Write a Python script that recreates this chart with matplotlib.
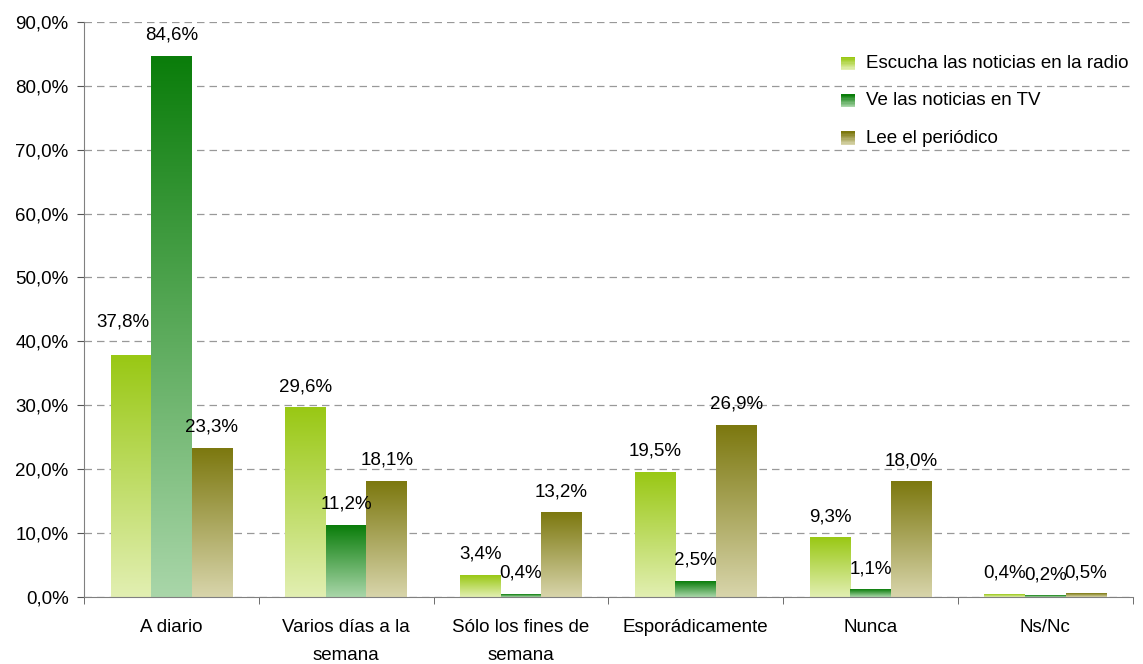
import matplotlib.pyplot as plt
import numpy as np
from matplotlib.colors import LinearSegmentedColormap
from matplotlib.patches import Rectangle
from matplotlib.legend_handler import HandlerBase

plt.rcParams['font.family'] = ['Liberation Sans', 'DejaVu Sans']

# data
categories = ['A diario', 'Varios días a la\nsemana', 'Sólo los fines de\nsemana',
              'Esporádicamente', 'Nunca', 'Ns/Nc']
series_names = ['Escucha las noticias en la radio', 'Ve las noticias en TV', 'Lee el periódico']
radio = [37.8, 29.6, 3.4, 19.5, 9.3, 0.4]
tv = [84.6, 11.2, 0.4, 2.5, 1.1, 0.2]
paper = [23.3, 18.1, 13.2, 26.9, 18.0, 0.5]
yticks = [0, 10, 20, 30, 40, 50, 60, 70, 80, 90]

# top / bottom colours for each series gradient
grad_colors = [('#99c814', '#e2efb2'), ('#0a7d0a', '#a9d6a9'), ('#7c780f', '#d8d5ab')]
cmaps = [LinearSegmentedColormap.from_list('g%d' % i, [c[1], c[0]]) for i, c in enumerate(grad_colors)]

FS = 13.5

fig = plt.figure(figsize=(11.43, 6.64), dpi=100)
ax = fig.add_axes([0.0735, 0.101, 0.9175, 0.866])

x = np.arange(len(categories))
w = 0.232
allvals = [radio, tv, paper]

for i, vals in enumerate(allvals):
    bars = ax.bar(x + (i - 1) * w, vals, w, color='none')
    grad = np.linspace(0, 1, 256).reshape(-1, 1)
    for b in bars:
        bx, by, bw, bh = b.get_x(), b.get_y(), b.get_width(), b.get_height()
        ax.imshow(grad, extent=[bx, bx + bw, by, by + bh], origin='lower',
                  cmap=cmaps[i], aspect='auto', zorder=2)
    for j, b in enumerate(bars):
        dx, dy = 0, 0
        if i == 0 and j == 0:
            dx, dy = -6, 9
        ax.annotate(('%.1f%%' % vals[j]).replace('.', ','),
                    (b.get_x() + b.get_width() / 2, b.get_height()),
                    xytext=(dx, 9 + dy), textcoords='offset points',
                    ha='center', va='bottom', fontsize=FS, color='black')

ax.set_xlim(-0.5, len(categories) - 0.5)
ax.set_ylim(0, 90)
ax.set_yticks(yticks)
ax.set_yticklabels([('%.1f%%' % t).replace('.', ',') for t in yticks], fontsize=FS)
ax.set_xticks(x)
ax.set_xticklabels(categories, fontsize=FS, linespacing=1.85)
ax.tick_params(axis='x', length=0, pad=16)
ax.set_xticks(np.arange(len(categories) + 1) - 0.5, minor=True)
ax.tick_params(axis='x', which='minor', length=5, color='#555555')
ax.tick_params(axis='y', length=5, color='#555555', pad=6)

ax.yaxis.grid(True, linestyle=(0, (6, 4)), color='#999999', linewidth=0.9)
ax.set_axisbelow(True)
for s in ['top', 'right']:
    ax.spines[s].set_visible(False)
ax.spines['left'].set_color('#808080')
ax.spines['bottom'].set_color('#808080')


class GradHandler(HandlerBase):
    def create_artists(self, legend, orig_handle, xd, yd, width, height, fontsize, trans):
        cmap = cmaps[orig_handle]
        n = 10
        arts = []
        for k in range(n):
            r = Rectangle((xd, yd - 1.5 + height * k / n), width, height / n + 0.3,
                          facecolor=cmap(k / (n - 1)), edgecolor='none', transform=trans)
            arts.append(r)
        return arts


ax.legend([0, 1, 2], series_names, handler_map={int: GradHandler()},
          loc='upper right', bbox_to_anchor=(1.012, 0.972), frameon=False,
          fontsize=FS, handlelength=0.75, handleheight=0.7, labelspacing=1.08,
          handletextpad=0.6)

plt.savefig('out.png', dpi=100)
